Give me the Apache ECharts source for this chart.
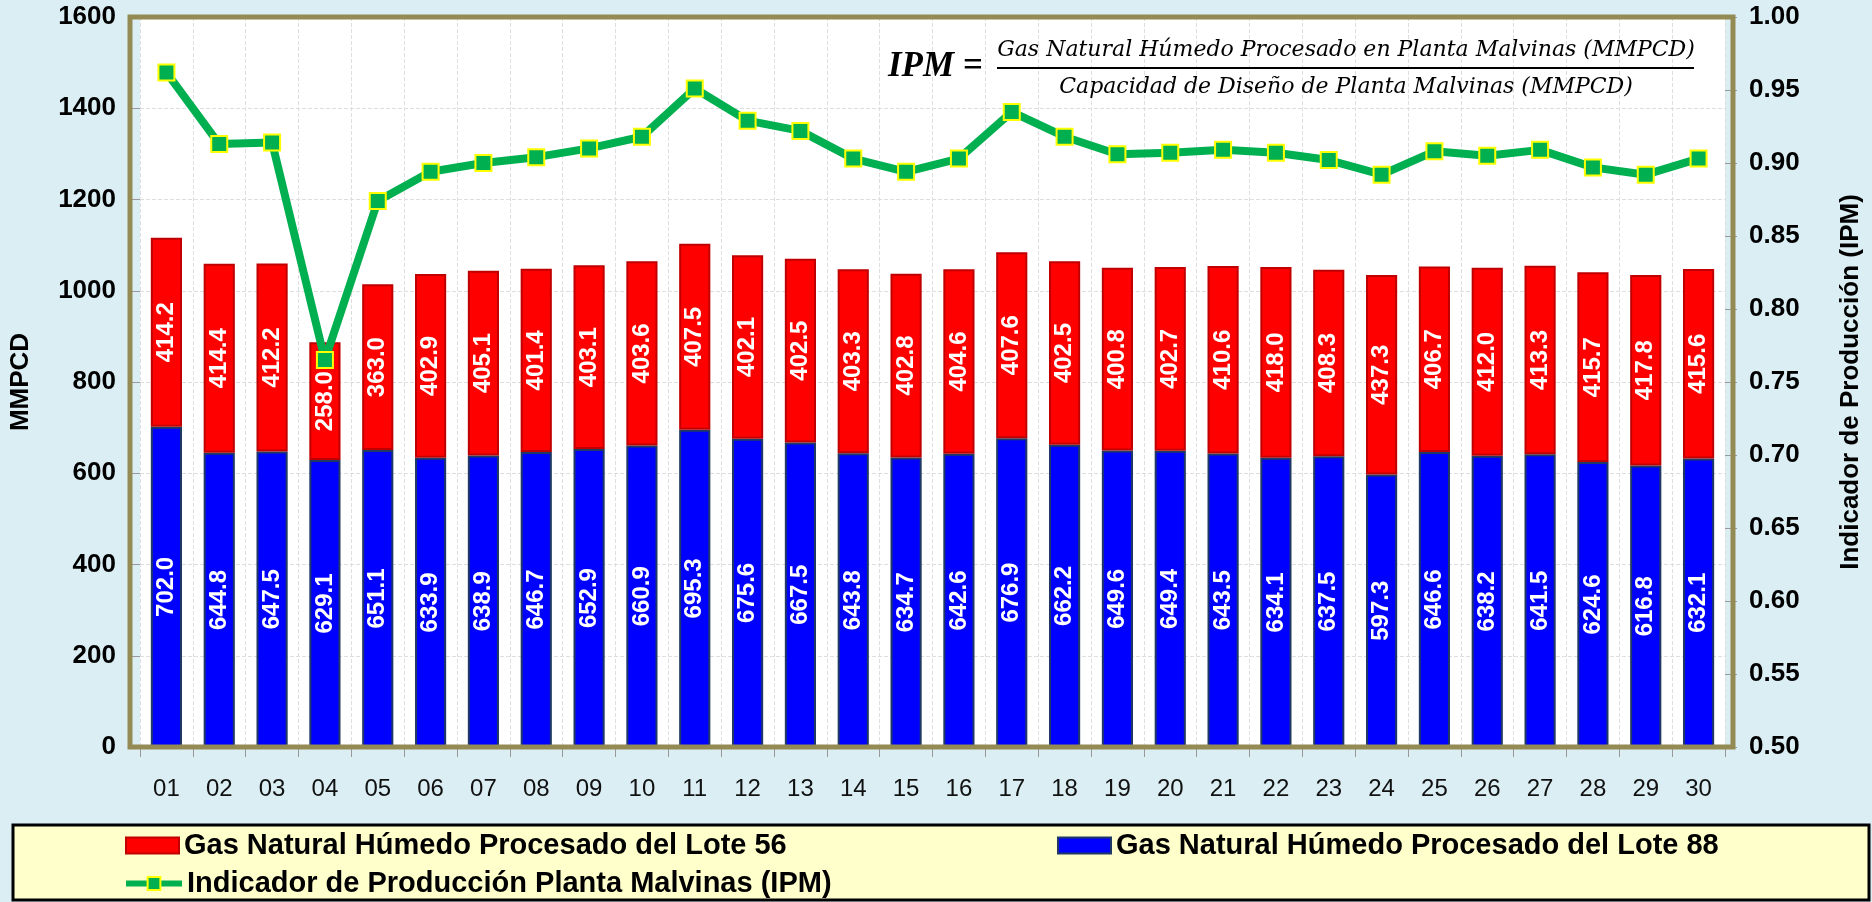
<!DOCTYPE html>
<html>
<head>
<meta charset="utf-8">
<script src="https://cdn.jsdelivr.net/npm/echarts@6/dist/echarts.min.js"></script>
<style>
html, body { margin: 0; padding: 0; background: #DAEEF3; }
#chart { width: 1872px; height: 902px; }
</style>
</head>
<body>
<div id="chart"></div>
<script>
// dias del mes
var dias = ['01','02','03','04','05','06','07','08','09','10','11','12','13','14','15',
    '16','17','18','19','20','21','22','23','24','25','26','27','28','29','30'];
// Lote 88 (azul, abajo)
var lote88 = [702.0,644.8,647.5,629.1,651.1,633.9,638.9,646.7,652.9,660.9,695.3,675.6,667.5,643.8,634.7,
    642.6,676.9,662.2,649.6,649.4,643.5,634.1,637.5,597.3,646.6,638.2,641.5,624.6,616.8,632.1];
// Lote 56 (rojo, arriba)
var lote56 = [414.2,414.4,412.2,258.0,363.0,402.9,405.1,401.4,403.1,403.6,407.5,402.1,402.5,403.3,402.8,
    404.6,407.6,402.5,400.8,402.7,410.6,418.0,408.3,437.3,406.7,412.0,413.3,415.7,417.8,415.6];
// indicador IPM (eje derecho)
var ipm = [0.962,0.913,0.914,0.765,0.874,0.894,0.900,0.904,0.910,0.918,0.951,0.929,0.922,0.903,0.894,
    0.903,0.935,0.918,0.906,0.907,0.909,0.907,0.902,0.892,0.908,0.905,0.909,0.897,0.892,0.903];

var nom56 = 'Gas Natural Húmedo Procesado del Lote 56';
var nom88 = 'Gas Natural Húmedo Procesado del Lote 88';
var nomIpm = 'Indicador de Producción Planta Malvinas (IPM)';

var myChart = echarts.init(document.getElementById('chart'));

var etiqueta = {
    show: true,
    position: 'inside',
    rotate: 90,
    color: '#fff',
    fontFamily: 'Arial, "Liberation Sans"',
    fontWeight: 'bold',
    fontSize: 24,
    formatter: function (p) { return p.value.toFixed(1); }
};

var leyendaTexto = {
    color: '#000',
    fontFamily: 'Arial, "Liberation Sans"',
    fontWeight: 'bold',
    fontSize: 29
};

var option = {
    backgroundColor: '#DAEEF3',
    animation: false,
    grid: {
        left: 130, right: 139, top: 17, bottom: 155,
        show: true,
        backgroundColor: '#fff',
        borderWidth: 0
    },
    legend: [
        {data: [nom56], left: 125, top: 831, padding: 0, itemWidth: 53, itemHeight: 16, icon: 'rect', textStyle: leyendaTexto},
        {data: [nom88], left: 1057, top: 831, padding: 0, itemWidth: 53, itemHeight: 16, icon: 'rect', textStyle: leyendaTexto},
        {data: [nomIpm], left: 123, top: 869, padding: 0, itemWidth: 56, itemHeight: 16, textStyle: leyendaTexto,
            lineStyle: {width: 6}}
    ],
    xAxis: {
        type: 'category',
        data: dias,
        axisLine: {show: false},
        axisTick: {show: true, length: 10, lineStyle: {color: '#999'}},
        axisLabel: {margin: 30, color: '#111', fontFamily: 'Arial, "Liberation Sans"', fontSize: 24},
        splitLine: {show: true, lineStyle: {color: '#dedede', type: 'dashed'}}
    },
    yAxis: [
        {
            type: 'value', min: 0, max: 1600, interval: 200,
            name: 'MMPCD', nameLocation: 'middle', nameGap: 106, nameRotate: 90,
            nameTextStyle: {color: '#000', fontFamily: 'Arial, "Liberation Sans"', fontWeight: 'bold', fontSize: 26},
            axisLine: {show: false},
            axisTick: {show: true, length: 10, lineStyle: {color: '#999'}},
            axisLabel: {margin: 24, color: '#000', fontFamily: 'Arial, "Liberation Sans"', fontWeight: 'bold', fontSize: 26,
                formatter: function (v) { return String(v); }},
            splitLine: {show: true, lineStyle: {color: '#dedede', type: 'dashed'}}
        },
        {
            type: 'value', min: 0.5, max: 1.0, interval: 0.05, position: 'right',
            name: 'Indicador de Producción (IPM)', nameLocation: 'middle', nameGap: 113, nameRotate: 90,
            nameTextStyle: {color: '#000', fontFamily: 'Arial, "Liberation Sans"', fontWeight: 'bold', fontSize: 26},
            axisLine: {show: false},
            axisTick: {show: true, length: 12, lineStyle: {color: '#999'}},
            axisLabel: {margin: 24, color: '#000', fontFamily: 'Arial, "Liberation Sans"', fontWeight: 'bold', fontSize: 26,
                formatter: function (v) { return v.toFixed(2); }},
            splitLine: {show: false}
        }
    ],
    series: [
        {
            name: nom88, type: 'bar', stack: 'gas', barWidth: '59%',
            data: lote88,
            itemStyle: {color: '#0000FF', borderColor: '#1F3864', borderWidth: 2},
            label: etiqueta
        },
        {
            name: nom56, type: 'bar', stack: 'gas',
            data: lote56,
            itemStyle: {color: '#FF0000', borderColor: '#C00000', borderWidth: 2},
            label: etiqueta
        },
        {
            name: nomIpm, type: 'line', yAxisIndex: 1,
            data: ipm,
            z: 5,
            symbol: 'rect', symbolSize: 16,
            lineStyle: {color: '#00B050', width: 8},
            itemStyle: {color: '#00B050', borderColor: '#FFFF00', borderWidth: 2}
        }
    ],
    graphic: [
        // caja de la leyenda
        {type: 'rect', z: -10, shape: {x: 13, y: 825, width: 1856, height: 75},
            style: {fill: '#FFFFCC', stroke: '#000', lineWidth: 3}},
        // marco del area de trazado
        {type: 'rect', z: 20, shape: {x: 130, y: 17, width: 1603, height: 730},
            style: {fill: 'none', stroke: '#948A54', lineWidth: 5}},
        // formula del IPM
        {type: 'text', z: 10, x: 888, y: 67,
            style: {text: 'IPM =', fill: '#000', font: 'bold italic 35px "Liberation Serif"', textVerticalAlign: 'middle'}},
        {type: 'text', z: 10, x: 1346, y: 50,
            style: {text: 'Gas Natural Húmedo Procesado en Planta Malvinas (MMPCD)', fill: '#000',
                font: 'italic 22px "DejaVu Serif"', textAlign: 'center', textVerticalAlign: 'middle'}},
        {type: 'line', z: 10, shape: {x1: 997, y1: 68, x2: 1694, y2: 68}, style: {stroke: '#000', lineWidth: 2}},
        {type: 'text', z: 10, x: 1346, y: 87,
            style: {text: 'Capacidad de Diseño de Planta Malvinas (MMPCD)', fill: '#000',
                font: 'italic 22px "DejaVu Serif"', textAlign: 'center', textVerticalAlign: 'middle'}}
    ]
};

myChart.setOption(option);
</script>
</body>
</html>
